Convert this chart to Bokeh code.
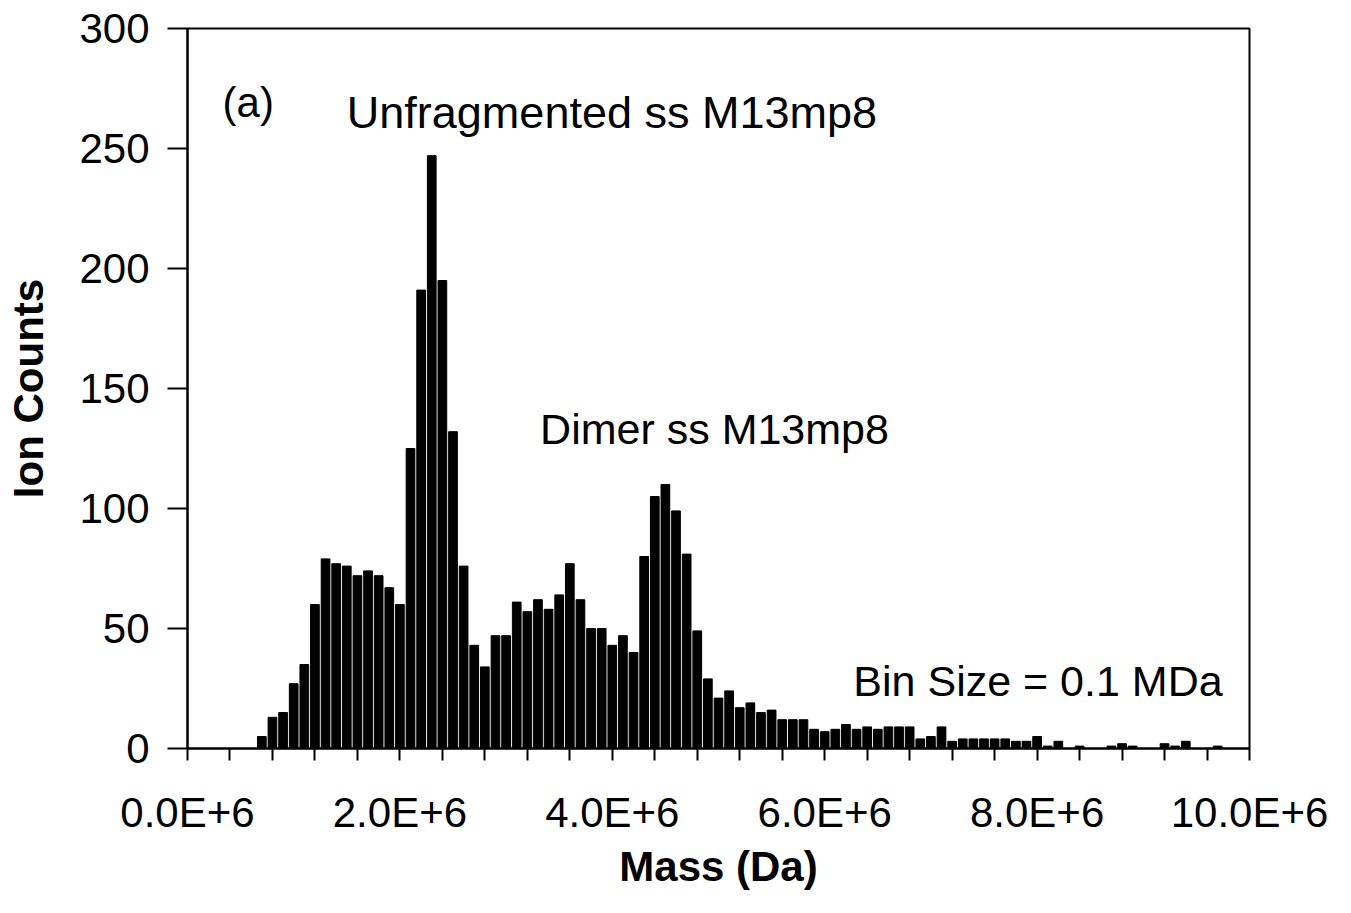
from bokeh.plotting import figure
from bokeh.models import Range1d, FixedTicker, Label
from bokeh.embed import file_html
from bokeh.resources import INLINE

# ---- data ----
mass_mda = [0.7, 0.8, 0.9, 1.0, 1.1, 1.2, 1.3, 1.4, 1.5, 1.6, 1.7, 1.8, 1.9, 2.0,
            2.1, 2.2, 2.3, 2.4, 2.5, 2.6, 2.7, 2.8, 2.9, 3.0, 3.1, 3.2, 3.3, 3.4,
            3.5, 3.6, 3.7, 3.8, 3.9, 4.0, 4.1, 4.2, 4.3, 4.4, 4.5, 4.6, 4.7, 4.8,
            4.9, 5.0, 5.1, 5.2, 5.3, 5.4, 5.5, 5.6, 5.7, 5.8, 5.9, 6.0, 6.1, 6.2,
            6.3, 6.4, 6.5, 6.6, 6.7, 6.8, 6.9, 7.0, 7.1, 7.2, 7.3, 7.4, 7.5, 7.6,
            7.7, 7.8, 7.9, 8.0, 8.1, 8.2, 8.3, 8.4, 8.5, 8.6, 8.7, 8.8, 8.9, 9.0,
            9.1, 9.2, 9.3, 9.4, 9.5, 9.6, 9.7]
ion_counts = [5, 13, 15, 27, 35, 60, 79, 77, 76, 72, 74, 72, 67, 60,
              125, 191, 247, 195, 132, 76, 43, 34, 47, 47, 61, 57, 62, 58,
              64, 77, 62, 50, 50, 43, 47, 40, 80, 105, 110, 99, 81, 49,
              29, 21, 24, 17, 19, 15, 16, 12, 12, 12, 8, 7, 8, 10,
              8, 9, 8, 9, 9, 9, 4, 5, 9, 3, 4, 4, 4, 4,
              4, 3, 3, 5, 1, 3, 0, 1, 0, 0, 1, 2, 1, 0,
              0, 2, 1, 3, 0, 0, 1]
bin_size_da = 0.1e6
x_major_ticks = [0, 2e6, 4e6, 6e6, 8e6, 10e6]
x_major_labels = ["0.0E+6", "2.0E+6", "4.0E+6", "6.0E+6", "8.0E+6", "10.0E+6"]
x_minor_ticks = [0.4e6, 0.8e6, 1.2e6, 1.6e6, 2.4e6, 2.8e6, 3.2e6, 3.6e6, 4.4e6, 4.8e6,
                 5.2e6, 5.6e6, 6.4e6, 6.8e6, 7.2e6, 7.6e6, 8.4e6, 8.8e6, 9.2e6, 9.6e6]
y_ticks = [0, 50, 100, 150, 200, 250, 300]

mass_da = [m * 1e6 for m in mass_mda]

FONT = "Liberation Sans"

p = figure(width=1351, height=913, output_backend="svg", toolbar_location=None,
           x_range=Range1d(0, 10e6), y_range=Range1d(0, 300),
           min_border_left=187, min_border_right=102, min_border_top=28,
           min_border_bottom=165)
p.background_fill_color = "white"
p.border_fill_color = "white"
p.outline_line_color = "black"
p.outline_line_width = 2
p.xgrid.grid_line_color = None
p.ygrid.grid_line_color = None

p.vbar(x=mass_da, top=ion_counts, width=bin_size_da * 0.82, bottom=0,
       fill_color="black", line_color="black", line_width=1)

# x axis
xa = p.xaxis[0]
xa.ticker = FixedTicker(ticks=x_major_ticks, minor_ticks=x_minor_ticks)
xa.major_label_overrides = {t: l for t, l in zip(x_major_ticks, x_major_labels)}
xa.axis_label = "Mass (Da)"
xa.axis_label_text_font = FONT
xa.axis_label_text_font_style = "bold"
xa.axis_label_text_font_size = "42px"
xa.axis_label_text_color = "black"
xa.axis_label_standoff = 4
xa.major_label_text_font = FONT
xa.major_label_text_font_size = "42px"
xa.major_label_text_color = "black"
xa.major_label_standoff = 28
xa.major_tick_in = 0
xa.major_tick_out = 12
xa.minor_tick_in = 0
xa.minor_tick_out = 12
xa.axis_line_width = 2
xa.major_tick_line_width = 2
xa.minor_tick_line_width = 2
xa.axis_line_color = "black"
xa.major_tick_line_color = "black"
xa.minor_tick_line_color = "black"

# y axis
ya = p.yaxis[0]
ya.ticker = FixedTicker(ticks=y_ticks, minor_ticks=[])
ya.axis_label = "Ion Counts"
ya.axis_label_text_font = FONT
ya.axis_label_text_font_style = "bold"
ya.axis_label_text_font_size = "42px"
ya.axis_label_text_color = "black"
ya.axis_label_standoff = 24
ya.major_label_text_font = FONT
ya.major_label_text_font_size = "42px"
ya.major_label_text_color = "black"
ya.major_label_standoff = 18
ya.major_tick_in = 0
ya.major_tick_out = 20
ya.minor_tick_in = 0
ya.minor_tick_out = 0
ya.axis_line_width = 2
ya.major_tick_line_width = 2
ya.axis_line_color = "black"
ya.major_tick_line_color = "black"

# annotations
annots = [
    ("(a)", 0.33e6, 269, "42px"),
    ("Unfragmented ss M13mp8", 1.50e6, 265, "45px"),
    ("Dimer ss M13mp8", 3.32e6, 133, "43px"),
    ("Bin Size = 0.1 MDa", 6.27e6, 28, "43px"),
]
for txt, ax, ay, fs in annots:
    p.add_layout(Label(x=ax, y=ay, text=txt, text_font=FONT, text_font_size=fs,
                       text_color="black", text_baseline="alphabetic", text_align="left"))

open("out.html", "w").write(file_html(p, INLINE))
